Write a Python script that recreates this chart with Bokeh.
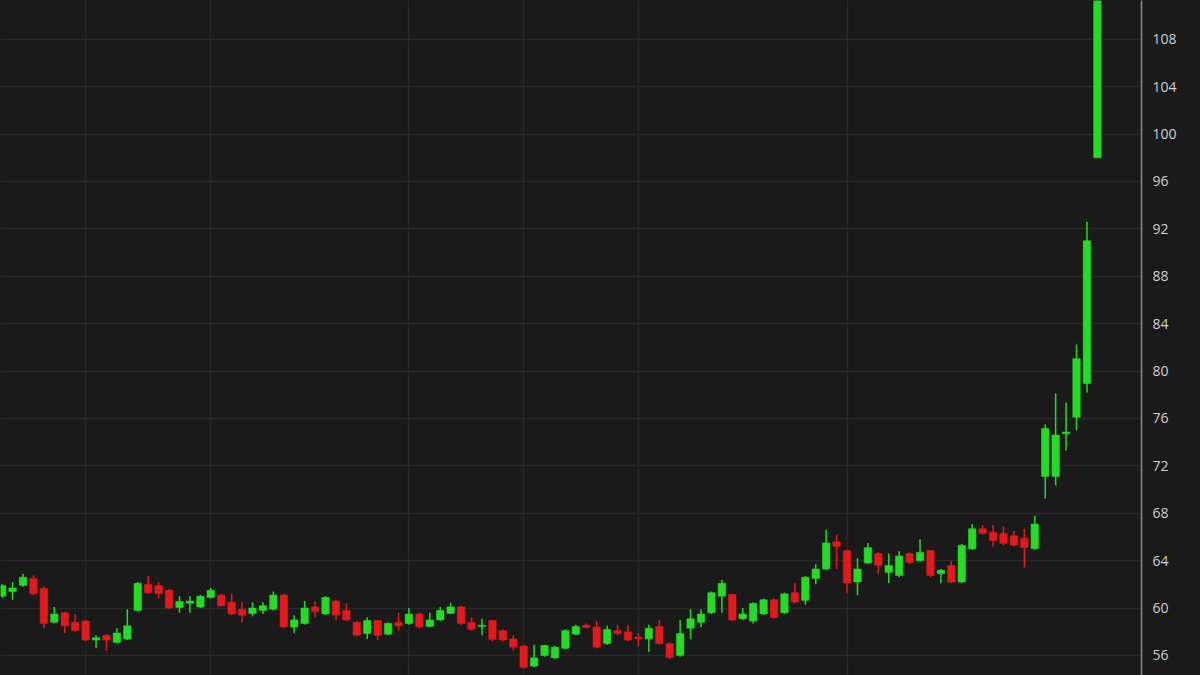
from bokeh.plotting import figure
from bokeh.models import Range1d, FixedTicker, ColumnDataSource
from bokeh.embed import file_html
from bokeh.resources import INLINE

# Daily candles (index order)
opens = [61.0, 61.4, 61.9, 62.5, 61.65, 58.8, 59.6, 58.8, 58.9, 57.3,
         57.7, 57.1, 57.4, 59.8, 62.0, 61.9, 61.5, 60.05, 60.4, 60.1,
         60.9, 61.1, 60.5, 59.9, 59.55, 59.8, 59.9, 61.1, 58.4, 58.7,
         60.1, 59.5, 60.6, 59.8, 58.8, 57.85, 58.95, 57.8, 58.8, 58.7,
         59.5, 58.45, 59.0, 59.55, 60.1, 58.8, 58.5, 58.95, 58.1, 57.4,
         56.8, 55.1, 56.0, 55.8, 56.6, 57.8, 58.55, 58.4, 57.0, 58.1,
         58.0, 57.55, 57.4, 58.45, 57.0, 56.0, 58.3, 58.8, 59.6, 61.0,
         61.15, 59.1, 58.9, 59.5, 60.7, 59.6, 61.3, 60.65, 62.5, 63.3,
         65.6, 64.85, 62.2, 63.8, 64.6, 63.0, 62.75, 64.6, 64.0, 64.85,
         62.9, 63.6, 62.2, 65.0, 66.7, 66.4, 66.3, 66.1, 65.9, 65.0,
         71.1, 71.1, 74.7, 76.1, 78.95, 98.0]
closes = [61.9, 61.7, 62.6, 61.2, 58.7, 59.5, 58.5, 58.1, 57.3, 57.5,
          57.3, 57.9, 58.5, 62.1, 61.3, 61.2, 60.0, 60.55, 60.6, 61.0,
          61.5, 60.2, 59.5, 59.4, 60.0, 60.2, 61.1, 58.4, 59.0, 60.0,
          59.7, 60.9, 59.4, 59.0, 57.7, 58.95, 57.7, 58.7, 58.5, 59.5,
          58.4, 59.0, 59.8, 60.1, 58.7, 58.2, 58.55, 57.35, 57.3, 56.7,
          55.0, 55.8, 56.85, 56.7, 58.1, 58.45, 58.35, 56.7, 58.2, 57.85,
          57.3, 57.4, 58.3, 57.0, 55.85, 57.85, 59.1, 59.5, 61.3, 62.1,
          59.0, 59.5, 60.4, 60.7, 59.2, 61.2, 60.5, 62.6, 63.3, 65.5,
          65.2, 62.1, 63.3, 65.1, 63.6, 63.6, 64.4, 63.85, 64.7, 62.75,
          63.2, 62.2, 65.3, 66.7, 66.3, 65.7, 65.45, 65.3, 65.1, 67.1,
          75.15, 74.6, 74.85, 81.05, 91.0, 115.0]
highs = [62.0, 62.2, 62.9, 62.75, 61.8, 60.1, 59.7, 59.5, 59.0, 57.7,
         57.8, 58.3, 59.9, 62.2, 62.7, 62.2, 61.6, 61.0, 61.0, 61.1,
         61.7, 61.2, 61.2, 60.5, 60.5, 60.5, 61.4, 61.2, 59.4, 60.6,
         60.6, 61.0, 60.7, 60.4, 58.9, 59.2, 59.0, 58.8, 59.6, 60.0,
         59.6, 59.6, 60.1, 60.45, 60.2, 59.2, 59.1, 59.0, 58.2, 57.7,
         56.9, 56.9, 56.9, 56.8, 58.2, 58.6, 58.7, 58.9, 58.5, 58.6,
         58.6, 57.9, 58.6, 59.0, 57.1, 59.0, 59.9, 59.9, 61.4, 62.4,
         61.2, 60.0, 60.5, 60.8, 60.8, 61.3, 62.1, 62.7, 63.7, 66.6,
         66.2, 64.9, 64.2, 65.5, 64.7, 64.6, 64.8, 64.7, 65.8, 64.9,
         63.3, 64.0, 65.4, 67.1, 67.0, 67.0, 66.9, 66.5, 66.7, 67.8,
         75.5, 78.1, 77.35, 82.25, 92.6, 115.0]
lows = [60.9, 60.7, 61.8, 61.1, 58.3, 58.7, 57.9, 58.0, 57.2, 56.6,
        56.4, 57.0, 57.3, 59.7, 61.2, 60.8, 59.9, 59.6, 59.6, 60.0,
        60.8, 60.1, 59.4, 58.8, 59.3, 59.5, 59.8, 58.3, 57.9, 58.6,
        59.2, 59.4, 58.95, 58.9, 57.6, 57.4, 57.3, 57.7, 58.1, 58.6,
        58.3, 58.4, 58.9, 59.5, 58.6, 58.1, 57.7, 57.2, 57.2, 56.4,
        54.9, 55.0, 55.9, 55.7, 56.5, 57.7, 58.3, 56.6, 56.9, 57.7,
        57.2, 56.8, 56.3, 56.9, 55.7, 55.9, 57.4, 58.4, 59.5, 59.6,
        58.9, 59.0, 58.7, 59.4, 59.1, 59.5, 60.4, 60.3, 62.0, 63.2,
        63.3, 61.3, 61.1, 63.7, 62.9, 62.1, 62.6, 63.7, 63.9, 62.6,
        62.1, 62.1, 62.1, 64.9, 66.2, 65.2, 65.3, 65.2, 63.4, 64.9,
        69.25, 70.35, 73.3, 75.0, 78.2, 98.0]
y_ticks = [56, 60, 64, 68, 72, 76, 80, 84, 88, 92, 96, 100, 104, 108]
grid_days = [8, 20, 39, 50, 61, 81]

GREEN = "#24dc24"
RED = "#e3191b"
BG = "#1a1a1a"

idx = list(range(len(opens)))
colors = [GREEN if c >= o else RED for o, c in zip(opens, closes)]
tops = [max(o, c) for o, c in zip(opens, closes)]
bottoms = [min(o, c) for o, c in zip(opens, closes)]
bottoms = [b if t - b >= 0.12 else t - 0.12 for t, b in zip(tops, bottoms)]

src = ColumnDataSource(dict(x=idx, top=tops, bottom=bottoms, high=highs,
                            low=lows, color=colors))

p = figure(width=1200, height=675, output_backend="svg", toolbar_location=None,
           x_range=Range1d(-0.16, 109.23), y_range=Range1d(54.31, 111.27),
           y_axis_location="right", x_axis_location=None,
           min_border_left=0, min_border_top=0, min_border_bottom=0,
           min_border_right=59)

p.background_fill_color = BG
p.border_fill_color = BG
p.outline_line_color = None

p.segment(x0="x", y0="low", x1="x", y1="high", color="color",
          line_width=1.5, source=src)
p.vbar(x="x", top="top", bottom="bottom", width=0.72, fill_color="color",
       line_color="color", line_width=0.5, source=src)

ax = p.yaxis[0]
ax.ticker = FixedTicker(ticks=y_ticks)
ax.axis_line_color = "#8c8c8c"
ax.axis_line_width = 1.5
ax.major_tick_line_color = None
ax.minor_tick_line_color = None
ax.major_tick_out = 0
ax.major_tick_in = 0
ax.major_label_standoff = 11
ax.major_label_text_color = "#cfcfcf"
ax.major_label_text_font = "Open Sans"
ax.major_label_text_font_size = "14px"

p.ygrid.ticker = FixedTicker(ticks=y_ticks)
p.ygrid.grid_line_color = "#282828"
p.ygrid.grid_line_width = 1.5
p.xgrid.ticker = FixedTicker(ticks=grid_days)
p.xgrid.grid_line_color = "#282828"
p.xgrid.grid_line_width = 1.5

html = file_html(p, INLINE)
html = html.replace("<head>", "<head><style>body{background:#1a1a1a;}</style>", 1)
open("out.html", "w").write(html)
